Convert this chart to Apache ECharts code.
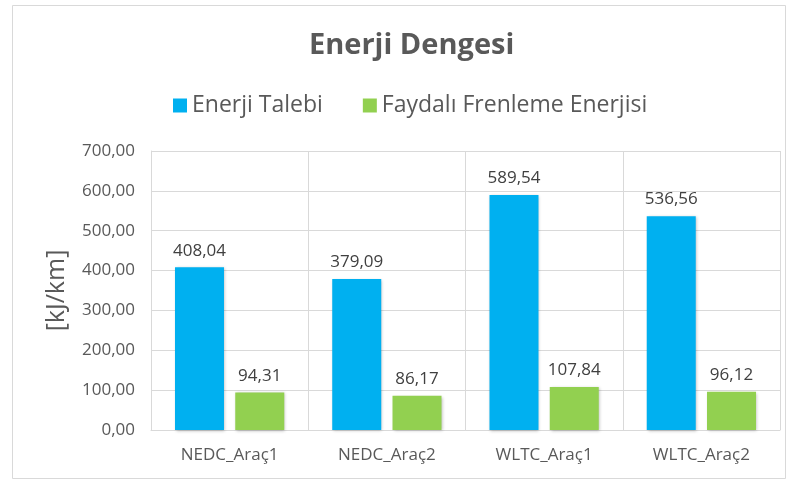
<!DOCTYPE html>
<html>
<head>
<meta charset="utf-8">
<script src="https://cdn.jsdelivr.net/npm/echarts@6/dist/echarts.min.js"></script>
<style>
  html, body { margin: 0; padding: 0; background: #fff; }
  #chart { width: 793px; height: 482px; }
</style>
</head>
<body>
<div id="chart"></div>
<script>
// Energy balance per driving cycle and vehicle
const categories = ['NEDC_Araç1', 'NEDC_Araç2', 'WLTC_Araç1', 'WLTC_Araç2'];
const enerjiTalebi = [408.04, 379.09, 589.54, 536.56];
const frenlemeEnerjisi = [94.31, 86.17, 107.84, 96.12];
const seriesNames = ['Enerji Talebi', 'Faydalı Frenleme Enerjisi'];

const FONT = '"Open Sans", Lato, sans-serif';
const fmt = v => v.toFixed(2).replace('.', ',');

const chart = echarts.init(document.getElementById('chart'), null, { renderer: 'canvas' });

const barStyle = (color) => ({
  color: color,
  shadowColor: 'rgba(0,0,0,0.25)',
  shadowBlur: 3,
  shadowOffsetX: 1,
  shadowOffsetY: 1
});

const labelStyle = {
  show: true,
  position: 'top',
  distance: 8,
  fontFamily: FONT,
  fontSize: 17,
  color: '#404040',
  formatter: p => fmt(p.value)
};

chart.setOption({
  backgroundColor: '#fff',
  animation: false,
  graphic: [{
    type: 'rect',
    shape: { x: 12.5, y: 5.5, width: 773, height: 473 },
    style: { fill: 'none', stroke: '#d9d9d9', lineWidth: 1 },
    silent: true
  }],
  title: {
    text: 'Enerji Dengesi',
    left: 304,
    top: 26,
    textStyle: { fontFamily: FONT, fontSize: 29, fontWeight: 'bold', color: '#595959' }
  },
  legend: {
    data: seriesNames,
    top: 89,
    left: 168,
    itemWidth: 14,
    itemHeight: 14,
    itemGap: 40,
    icon: 'rect',
    textStyle: { fontFamily: FONT, fontSize: 23, color: '#595959' }
  },
  grid: { left: 151, right: 13, top: 151, bottom: 52, containLabel: false },
  xAxis: {
    type: 'category',
    data: categories,
    axisTick: { show: false },
    axisLine: { show: true, lineStyle: { color: '#d9d9d9' } },
    splitLine: { show: true, lineStyle: { color: '#d9d9d9' } },
    axisLabel: { fontFamily: FONT, fontSize: 17, color: '#595959', margin: 17 }
  },
  yAxis: {
    type: 'value',
    min: 0,
    max: 700,
    interval: 100,
    name: '[kJ/km]',
    nameLocation: 'middle',
    nameGap: 82,
    nameTextStyle: { fontFamily: FONT, fontSize: 25, color: '#595959' },
    axisLine: { show: true, lineStyle: { color: '#d9d9d9' } },
    axisTick: { show: false },
    splitLine: { lineStyle: { color: '#d9d9d9' } },
    axisLabel: { fontFamily: FONT, fontSize: 17, color: '#595959', margin: 16, formatter: v => fmt(v) }
  },
  series: [
    {
      name: seriesNames[0],
      type: 'bar',
      data: enerjiTalebi,
      barWidth: 49,
      barGap: '23%',
      itemStyle: barStyle('#00b0f0'),
      label: labelStyle
    },
    {
      name: seriesNames[1],
      type: 'bar',
      data: frenlemeEnerjisi,
      barWidth: 49,
      barGap: '23%',
      itemStyle: barStyle('#92d050'),
      label: labelStyle
    }
  ]
});
</script>
</body>
</html>
